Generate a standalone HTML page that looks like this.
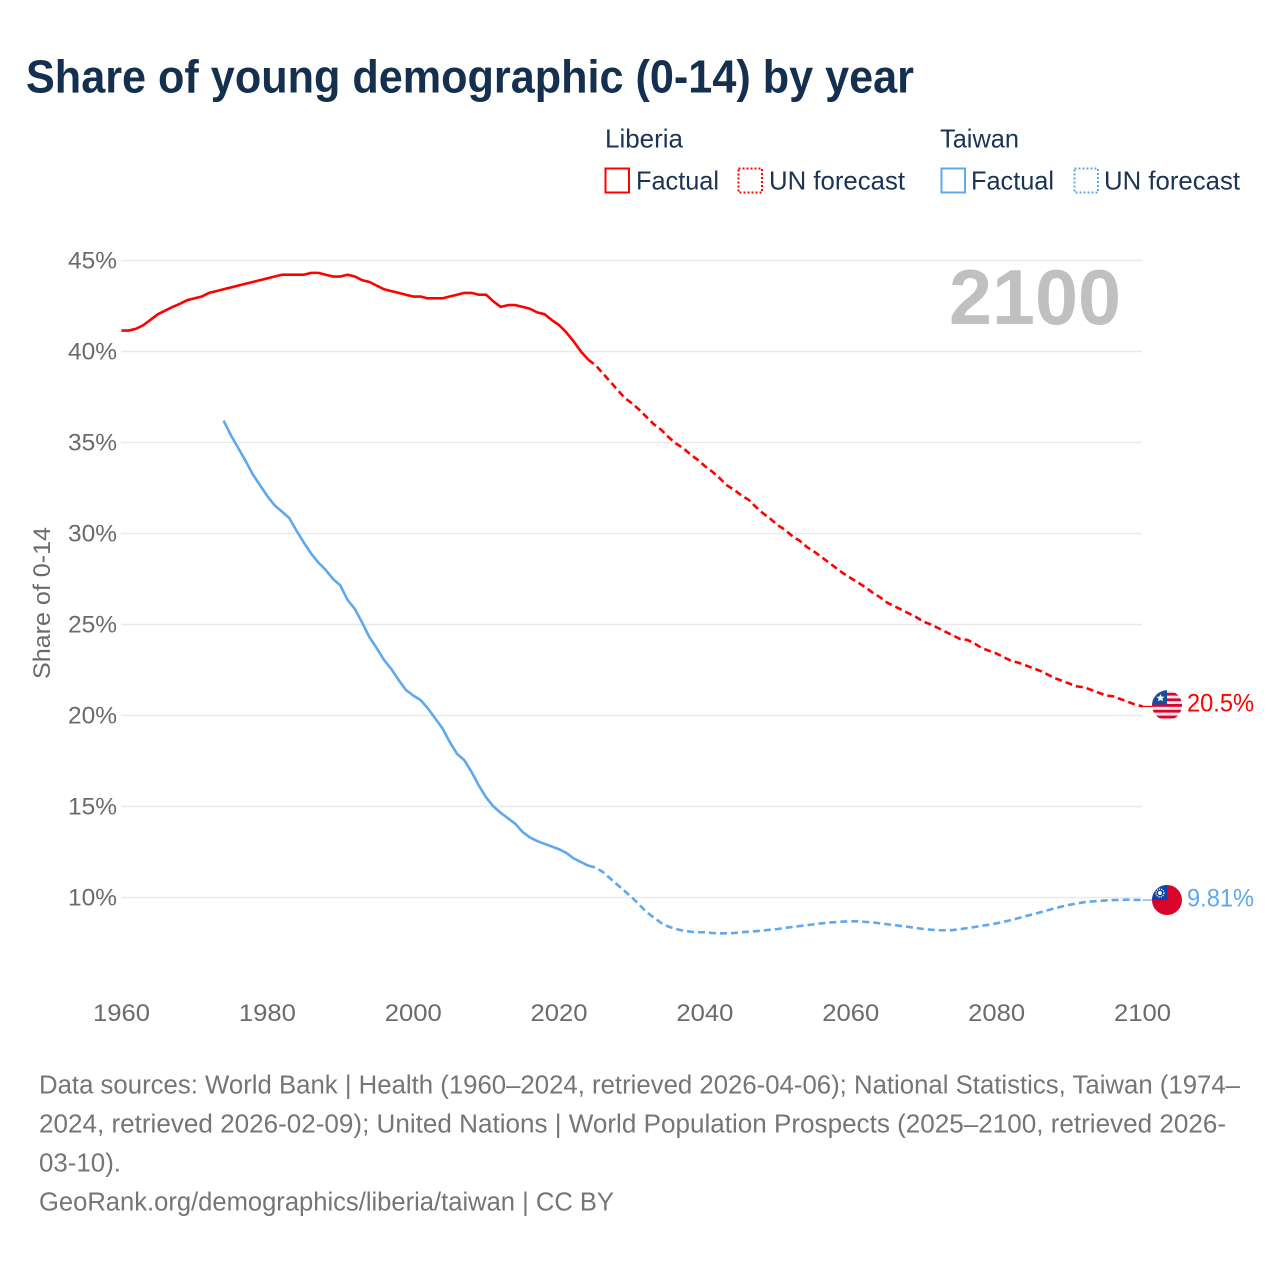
<!DOCTYPE html>
<html lang="en">
<head>
<meta charset="utf-8">
<title>Share of young demographic (0-14) by year</title>
<style>
html,body{margin:0;padding:0;background:#fff;}
svg{display:block;font-family:"Liberation Sans",sans-serif;}
.legend{font-size:26px;fill:#1b3354;}
.foot{font-size:25.5px;fill:#757575;}
.tick{font-size:24.5px;fill:#6b6b6b;}
</style>
</head>
<body>
<svg id="chart" width="1280" height="1280" viewBox="0 0 1280 1280" xmlns="http://www.w3.org/2000/svg">
  <rect width="1280" height="1280" fill="#ffffff"/>
  <text x="26" y="92.5" font-size="46" font-weight="700" fill="#152f4e" textLength="888" lengthAdjust="spacingAndGlyphs">Share of young demographic (0-14) by year</text>

  <g>
    <text class="legend" x="605" y="147.5" textLength="78" lengthAdjust="spacingAndGlyphs">Liberia</text>
    <rect x="605.5" y="168.5" width="23.5" height="24" fill="none" stroke="#ff0000" stroke-width="2"/>
    <text class="legend" x="636" y="189.5" textLength="83" lengthAdjust="spacingAndGlyphs">Factual</text>
    <rect x="738.5" y="168.5" width="23.5" height="24" fill="none" stroke="#ff0000" stroke-width="2" stroke-dasharray="2 2"/>
    <text class="legend" x="769" y="189.5" textLength="136" lengthAdjust="spacingAndGlyphs">UN forecast</text>
    <text class="legend" x="940" y="147.5" textLength="79" lengthAdjust="spacingAndGlyphs">Taiwan</text>
    <rect x="941.5" y="168.5" width="23.5" height="24" fill="none" stroke="#5fa8ee" stroke-width="2"/>
    <text class="legend" x="971" y="189.5" textLength="83" lengthAdjust="spacingAndGlyphs">Factual</text>
    <rect x="1074.5" y="168.5" width="23.5" height="24" fill="none" stroke="#5fa8ee" stroke-width="2" stroke-dasharray="2 2"/>
    <text class="legend" x="1104" y="189.5" textLength="136" lengthAdjust="spacingAndGlyphs">UN forecast</text>
  </g>

  <g id="grid"></g>
  <g id="yticks"></g>
  <g id="xticks"></g>
  <text transform="translate(50,603) rotate(-90)" text-anchor="middle" font-size="24.5" fill="#6b6b6b" textLength="152" lengthAdjust="spacingAndGlyphs">Share of 0-14</text>
  <text x="949" y="324" font-size="78" font-weight="700" fill="#c0c0c0" textLength="172" lengthAdjust="spacingAndGlyphs">2100</text>

  <g id="series"></g>

  <defs>
    <clipPath id="clip-lib"><circle cx="1167" cy="705.3" r="15"/></clipPath>
    <clipPath id="clip-twn"><circle cx="1167" cy="900" r="15"/></clipPath>
  </defs>
  <g clip-path="url(#clip-lib)">
    <rect x="1152" y="690" width="30" height="31" fill="#f2e6ea"/>
    <rect x="1152" y="692.8" width="30" height="2.8" fill="#d8062e"/>
    <rect x="1152" y="698.4" width="30" height="2.8" fill="#d8062e"/>
    <rect x="1152" y="704" width="30" height="2.8" fill="#d8062e"/>
    <rect x="1152" y="709.8" width="30" height="2.8" fill="#d8062e"/>
    <rect x="1152" y="715.6" width="30" height="2.8" fill="#d8062e"/>
    <rect x="1152" y="690" width="15" height="14.5" fill="#1a4c9c"/>
    <polygon points="1160.5,694 1161.6,696.6 1164.5,696.8 1162.3,698.6 1163,701.4 1160.5,699.9 1158,701.4 1158.7,698.6 1156.5,696.8 1159.4,696.6" fill="#ffffff"/>
  </g>
  <g clip-path="url(#clip-twn)">
    <rect x="1152" y="885" width="30" height="30" fill="#d9042b"/>
    <rect x="1152" y="885" width="15" height="15" fill="#0d46a8"/>
    <circle cx="1160" cy="893" r="4" fill="none" stroke="#ffffff" stroke-width="1.2" stroke-dasharray="1.2 1"/>
    <circle cx="1160" cy="893" r="2" fill="#ffffff"/>
  </g>
  <text x="1187" y="711.5" font-size="25" fill="#ff0000" textLength="67" lengthAdjust="spacingAndGlyphs">20.5%</text>
  <text x="1187" y="906.5" font-size="25" fill="#5fa8ee" textLength="67" lengthAdjust="spacingAndGlyphs">9.81%</text>

  <g>
    <text class="foot" x="39" y="1093.5" textLength="1201" lengthAdjust="spacingAndGlyphs">Data sources: World Bank | Health (1960–2024, retrieved 2026-04-06); National Statistics, Taiwan (1974–</text>
    <text class="foot" x="39" y="1132.5" textLength="1187" lengthAdjust="spacingAndGlyphs">2024, retrieved 2026-02-09); United Nations | World Population Prospects (2025–2100, retrieved 2026-</text>
    <text class="foot" x="39" y="1171.5" textLength="82" lengthAdjust="spacingAndGlyphs">03-10).</text>
    <text class="foot" x="39" y="1210.5" textLength="575" lengthAdjust="spacingAndGlyphs">GeoRank.org/demographics/liberia/taiwan | CC BY</text>
  </g>
</svg>
<script>
const yTickValues = [10, 15, 20, 25, 30, 35, 40, 45];
const yTickLabels = ["10%", "15%", "20%", "25%", "30%", "35%", "40%", "45%"];
const xTickYears = [1960, 1980, 2000, 2020, 2040, 2060, 2080, 2100];
const xTickLabels = ["1960", "1980", "2000", "2020", "2040", "2060", "2080", "2100"];

const liberiaFactualStart = 1960;
const liberiaFactual = [41.15,41.15,41.25,41.45,41.75,42.05,42.25,42.45,42.62,42.82,42.92,43.02,43.22,43.32,43.42,43.52,43.62,43.72,43.82,43.92,44.02,44.12,44.22,44.22,44.22,44.22,44.32,44.32,44.22,44.12,44.12,44.22,44.12,43.92,43.82,43.62,43.42,43.32,43.22,43.12,43.02,43.02,42.92,42.92,42.92,43.02,43.12,43.22,43.22,43.12,43.12,42.75,42.45,42.55,42.55,42.45,42.35,42.15,42.05,41.73,41.45,41.05,40.55,40.0,39.55];

const forecastStart = 2024;
const liberiaForecast = [39.55,39.25,38.8,38.35,37.9,37.45,37.15,36.8,36.4,36.0,35.7,35.3,34.95,34.7,34.35,34.05,33.7,33.4,33.05,32.65,32.4,32.1,31.85,31.45,31.1,30.8,30.45,30.2,29.85,29.6,29.25,29.0,28.7,28.4,28.1,27.8,27.55,27.3,27.05,26.75,26.5,26.2,26.0,25.8,25.6,25.4,25.15,25.0,24.8,24.6,24.4,24.2,24.15,23.95,23.7,23.55,23.4,23.2,23.0,22.9,22.75,22.6,22.45,22.25,22.05,21.9,21.75,21.6,21.55,21.4,21.25,21.1,21.05,20.9,20.75,20.6,20.5];

const taiwanFactualStart = 1974;
const taiwanFactual = [36.2,35.4,34.7,34.0,33.25,32.65,32.05,31.55,31.2,30.85,30.15,29.5,28.9,28.4,28.0,27.5,27.15,26.35,25.85,25.1,24.3,23.7,23.05,22.55,21.95,21.4,21.1,20.85,20.4,19.85,19.3,18.55,17.9,17.55,16.9,16.15,15.5,15.0,14.65,14.35,14.05,13.6,13.3,13.1,12.95,12.8,12.65,12.45,12.15,11.95,11.75];

const taiwanForecast = [11.75,11.65,11.4,11.05,10.7,10.35,10.0,9.6,9.2,8.9,8.6,8.4,8.27,8.18,8.12,8.09,8.09,8.05,8.03,8.03,8.05,8.09,8.12,8.15,8.19,8.23,8.27,8.33,8.38,8.43,8.48,8.53,8.58,8.62,8.65,8.68,8.69,8.69,8.66,8.63,8.58,8.53,8.48,8.43,8.38,8.32,8.27,8.23,8.2,8.2,8.21,8.26,8.32,8.38,8.45,8.51,8.58,8.67,8.76,8.87,8.98,9.08,9.19,9.3,9.41,9.51,9.6,9.67,9.74,9.78,9.81,9.84,9.86,9.87,9.88,9.87,9.86];

const SVGNS = "http://www.w3.org/2000/svg";
function xScale(year) { return 121.5 + (year - 1960) * (1142.5 - 121.5) / 140; }
function yScale(v) { return 897.5 - (v - 10) * (897.5 - 260.5) / 35; }
function pathFrom(start, values) {
  return values.map(function (v, i) {
    return (i ? "L" : "M") + xScale(start + i).toFixed(2) + " " + yScale(v).toFixed(2);
  }).join(" ");
}

const gridGroup = document.getElementById("grid");
const yTickGroup = document.getElementById("yticks");
const xTickGroup = document.getElementById("xticks");
const seriesGroup = document.getElementById("series");

yTickValues.forEach(function (v, i) {
  const line = document.createElementNS(SVGNS, "line");
  
  
  line.setAttribute("x1", 121);
  line.setAttribute("x2", 1142);
  line.setAttribute("y1", yScale(v));
  line.setAttribute("y2", yScale(v));
  line.setAttribute("stroke", "#e9e9e9");
  line.setAttribute("stroke-width", "1.4");
  gridGroup.appendChild(line);

  const label = document.createElementNS(SVGNS, "text");
  
  
  label.setAttribute("class", "tick");
  label.setAttribute("x", 68);
  label.setAttribute("y", yScale(v) + 8);
  label.setAttribute("textLength", 49);
  label.setAttribute("lengthAdjust", "spacingAndGlyphs");
  label.textContent = yTickLabels[i];
  yTickGroup.appendChild(label);
});

xTickYears.forEach(function (year, i) {
  const label = document.createElementNS(SVGNS, "text");
  
  
  label.setAttribute("class", "tick");
  label.setAttribute("x", xScale(year) - 28.5);
  label.setAttribute("y", 1021);
  label.setAttribute("textLength", 57);
  label.setAttribute("lengthAdjust", "spacingAndGlyphs");
  label.textContent = xTickLabels[i];
  xTickGroup.appendChild(label);
});

function addLine(d, color, dash, width) {
  const p = document.createElementNS(SVGNS, "path");
  p.setAttribute("d", d);
  p.setAttribute("fill", "none");
  p.setAttribute("stroke", color);
  p.setAttribute("stroke-width", width);
  p.setAttribute("stroke-linejoin", "round");
  if (dash) p.setAttribute("stroke-dasharray", dash);
  seriesGroup.appendChild(p);
  return p;
}

const RED = "#ff0000";
const BLUE = "#5fa8ee";
const lastYear = forecastStart + liberiaForecast.length - 1;

const lineA = addLine(pathFrom(liberiaFactualStart, liberiaFactual), RED, null, 2.6);



const lineB = addLine(pathFrom(forecastStart, liberiaForecast), RED, "7 4", 2.6);



const lineC = addLine(pathFrom(taiwanFactualStart, taiwanFactual), BLUE, null, 2.6);



const lineD = addLine(pathFrom(forecastStart, taiwanForecast), BLUE, "7 4", 2.6);



const libEnd = liberiaForecast[liberiaForecast.length - 1];
const connA = addLine("M" + xScale(lastYear) + " " + yScale(libEnd) + " L1153 " + yScale(libEnd), RED, null, 1.2);



const twnEnd = taiwanForecast[taiwanForecast.length - 1];
const connB = addLine("M" + xScale(lastYear) + " " + yScale(twnEnd) + " L1153 " + yScale(twnEnd), BLUE, null, 1.2);


</script>
</body>
</html>
